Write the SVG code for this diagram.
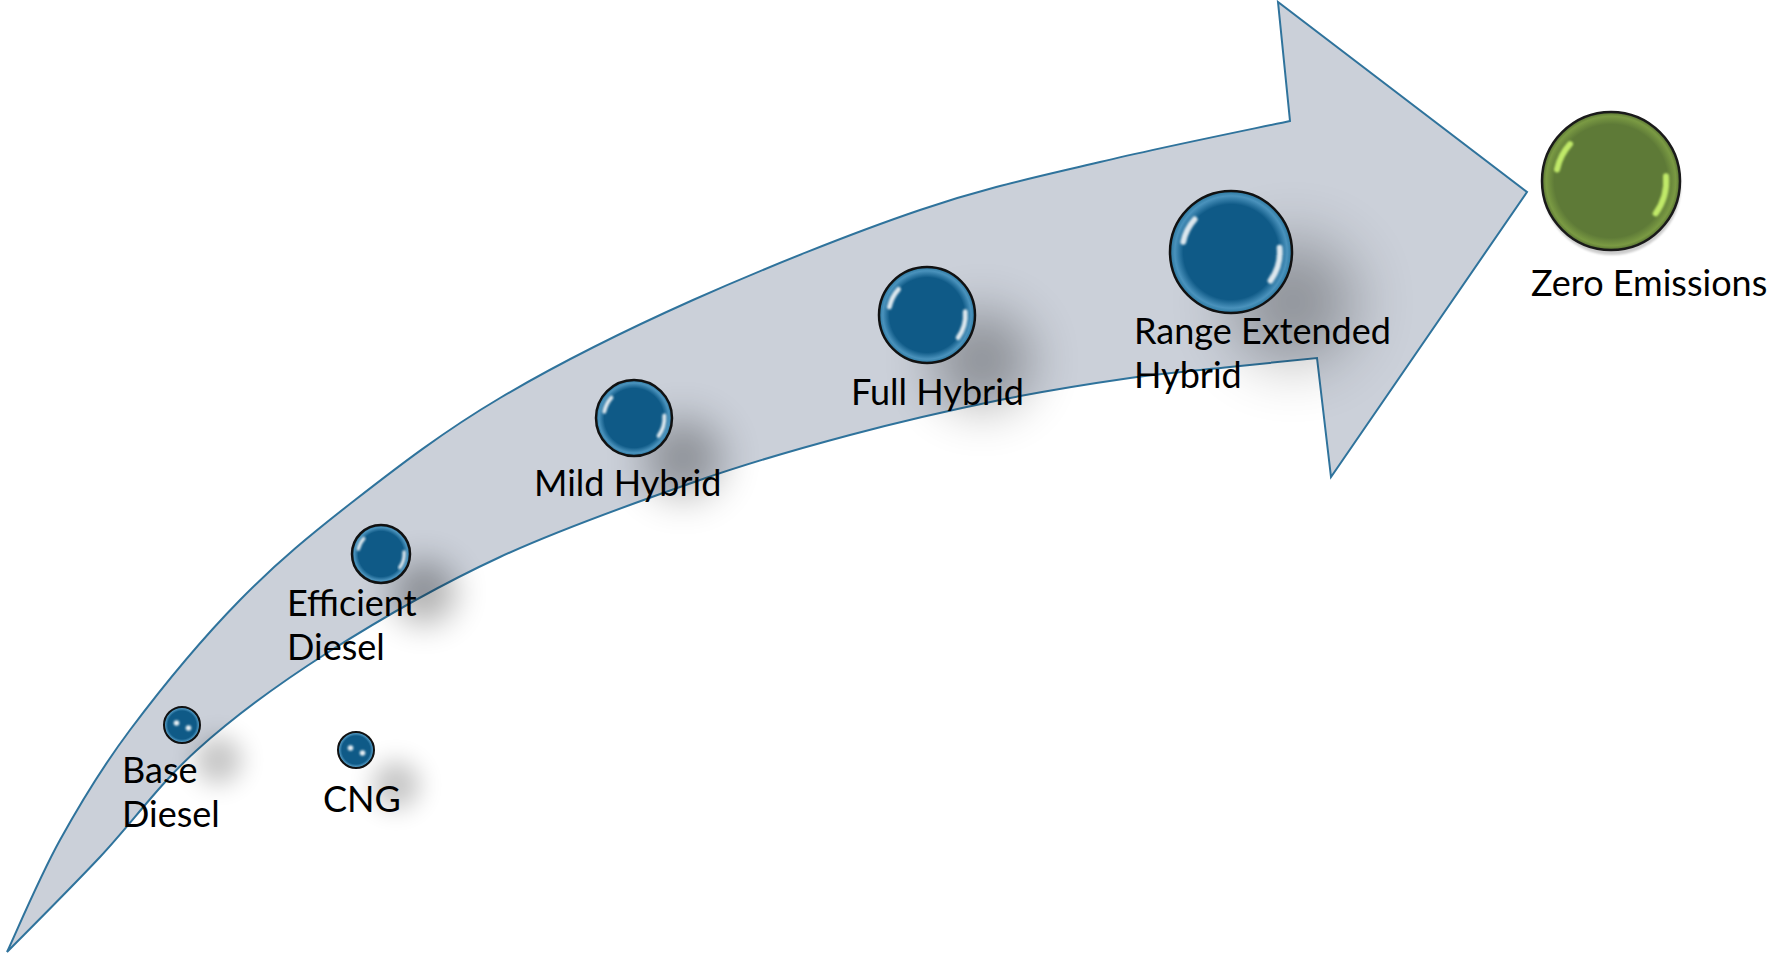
<svg xmlns="http://www.w3.org/2000/svg" width="1774" height="954" viewBox="0 0 1774 954">
<defs>
  <radialGradient id="blueBall" cx="50%" cy="50%" r="50%">
    <stop offset="0" stop-color="#0F5A87"/>
    <stop offset="0.78" stop-color="#0F5A87"/>
    <stop offset="0.92" stop-color="#4A92BC"/>
    <stop offset="1" stop-color="#2A779F"/>
  </radialGradient>
  <radialGradient id="greenBall" cx="50%" cy="50%" r="50%">
    <stop offset="0" stop-color="#5E7A37"/>
    <stop offset="0.82" stop-color="#5E7A37"/>
    <stop offset="0.94" stop-color="#7A9A43"/>
    <stop offset="1" stop-color="#587233"/>
  </radialGradient>
  <filter id="shadowBlur" x="-100%" y="-100%" width="300%" height="300%" primitiveUnits="objectBoundingBox">
    <feGaussianBlur stdDeviation="0.26"/>
  </filter>
  <filter id="hlBlur" x="-50%" y="-50%" width="200%" height="200%">
    <feGaussianBlur stdDeviation="1"/>
  </filter>
  <style>
    .arrow { fill: #CBD0D9; stroke: #2F739C; stroke-width: 2; stroke-linejoin: miter; }
    .shadow { fill: #000; opacity: 0.3; filter: url(#shadowBlur); }
    .sm { opacity: 0.22; }
    .ball { fill: url(#blueBall); stroke: #111; stroke-width: 2.5; }
    .gball { fill: url(#greenBall); stroke: #1A1A1A; stroke-width: 2.5; }
    .hl { fill: none; stroke: #FFFFFF; stroke-linecap: round; opacity: 0.85; filter: url(#hlBlur); }
    .ghl { fill: none; stroke: #C6F06C; stroke-linecap: round; opacity: 0.95; filter: url(#hlBlur); }
    .dot { fill: #FFFFFF; opacity: 0.9; filter: url(#hlBlur); }
    .lbl { font-family: Lato, "Liberation Sans", sans-serif; font-size: 36px; fill: #000; }
  </style>
</defs>
<rect width="1774" height="954" fill="#FFFFFF"/>

<g id="connectors">
  <path class="arrow" d="M 7 952 C 15.8 933.3 39.5 877 60 840 C 80.5 803 100 770 130 730 C 160 690 202.5 638.3 240 600 C 277.5 561.7 311.7 533.7 355 500 C 398.3 466.3 443.7 431.3 500 398 C 556.3 364.7 623 331.3 693 300 C 763 268.7 852.2 233 920 210 C 987.8 187 1038.3 176.8 1100 162 C 1161.7 147.2 1258.3 127.8 1290 121 L 1278 2 L 1527 192 L 1331 477 L 1317 358 C 1302.5 359.5 1261.2 363.7 1230 367 C 1198.8 370.3 1168.3 372.5 1130 378 C 1091.7 383.5 1046.7 390.5 1000 400 C 953.3 409.5 900 421.7 850 435 C 800 448.3 758.3 459.7 700 480 C 641.7 500.3 562.2 528.2 500 557 C 437.8 585.8 377.5 620.8 327 653 C 276.5 685.2 234.8 716 197 750 C 159.2 784 131.7 823.3 100 857 C 68.3 890.7 22.5 936.2 7 952 Z"/>
</g>

<g id="base-diesel">
  <circle class="shadow sm" cx="218" cy="760" r="24"/>
  <circle class="ball" cx="182" cy="725" r="18" style="stroke-width:2"/>
  <circle class="dot" cx="176.5" cy="723" r="2.8"/>
  <circle class="dot" cx="188.5" cy="728" r="2.8"/>
  <text class="lbl" x="122" y="783">Base</text>
  <text class="lbl" x="122" y="827">Diesel</text>
</g>

<g id="cng">
  <circle class="shadow sm" cx="396" cy="785" r="24"/>
  <circle class="ball" cx="356" cy="750" r="18" style="stroke-width:2"/>
  <circle class="dot" cx="350.5" cy="748" r="2.8"/>
  <circle class="dot" cx="362.5" cy="753" r="2.8"/>
  <text class="lbl" x="323" y="812">CNG</text>
</g>

<g id="efficient-diesel">
  <circle class="shadow" cx="424" cy="592" r="32"/>
  <circle class="ball" cx="381" cy="554" r="29"/>
  <path class="hl" style="stroke-width:3.4" d="M 358.3 549.2 A 23.2 23.2 0 0 1 363.8 538.5"/>
  <path class="hl" style="stroke-width:3.4" d="M 404.1 552 A 23.2 23.2 0 0 1 399.8 567.6"/>
  <text class="lbl" x="287" y="616">Efficient</text>
  <text class="lbl" x="287" y="660">Diesel</text>
</g>

<g id="mild-hybrid">
  <circle class="shadow" cx="683" cy="458" r="39"/>
  <circle class="ball" cx="634" cy="418" r="38"/>
  <path class="hl" style="stroke-width:4" d="M 604.3 411.7 A 30.4 30.4 0 0 1 611.4 397.7"/>
  <path class="hl" style="stroke-width:4" d="M 664.3 415.4 A 30.4 30.4 0 0 1 658.6 435.9"/>
  <text class="lbl" x="534" y="496">Mild Hybrid</text>
</g>

<g id="full-hybrid">
  <circle class="shadow" cx="982" cy="360" r="49"/>
  <circle class="ball" cx="927" cy="315" r="48"/>
  <path class="hl" style="stroke-width:4.8" d="M 889.4 307 A 38.4 38.4 0 0 1 898.5 289.3"/>
  <path class="hl" style="stroke-width:4.8" d="M 965.2 311.7 A 38.4 38.4 0 0 1 958.1 337.6"/>
  <text class="lbl" x="851" y="405">Full Hybrid</text>
</g>

<g id="range-extended-hybrid">
  <circle class="shadow" cx="1293" cy="302" r="61"/>
  <circle class="ball" cx="1231" cy="252" r="61"/>
  <path class="hl" style="stroke-width:5.8" d="M 1183.3 241.8 A 48.8 48.8 0 0 1 1194.7 219.4"/>
  <path class="hl" style="stroke-width:5.8" d="M 1279.6 247.7 A 48.8 48.8 0 0 1 1270.5 280.7"/>
  <text class="lbl" x="1134" y="344">Range Extended</text>
  <text class="lbl" x="1134" y="388">Hybrid</text>
</g>

<g id="zero-emissions">
  <circle cx="1612" cy="186" r="69" fill="#000" opacity="0.2" style="filter:url(#hlBlur)"/>
  <circle class="gball" cx="1611" cy="181" r="69"/>
  <path class="ghl" style="stroke-width:6" d="M 1557 169.5 A 55.2 55.2 0 0 1 1570 144.1"/>
  <path class="ghl" style="stroke-width:6" d="M 1666 176.2 A 55.2 55.2 0 0 1 1655.7 213.4"/>
  <text class="lbl" x="1531" y="296">Zero Emissions</text>
</g>
</svg>
